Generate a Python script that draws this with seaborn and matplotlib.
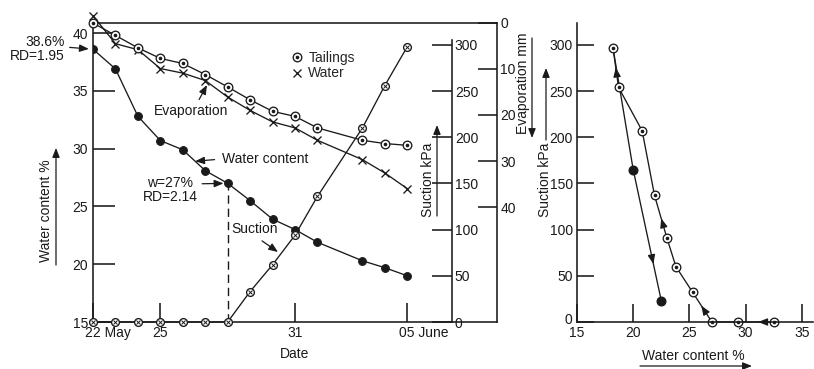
import numpy as np
import matplotlib
matplotlib.use("Agg")
import matplotlib.pyplot as plt
import matplotlib.transforms as mtransforms
from matplotlib.lines import Line2D
from matplotlib.patches import FancyArrowPatch
import seaborn as sns

# ---------------------------------------------------------------- data
date_ticks = [0, 3, 9, 14]
date_labels = ["22 May", "25", "31", "05 June"]

days = [0, 1, 2, 3, 4, 5, 6, 7, 8, 9, 10, 12, 13, 14]
water_content = [38.6, 36.9, 32.8, 30.7, 29.9, 28.1, 27.0, 25.5, 23.9, 23.0, 21.9, 20.3, 19.7, 19.0]
suction = [0, 0, 0, 0, 0, 0, 0, 33, 62, 94, 136, 210, 256, 298]
evap_tailings = [0, 2.7, 5.4, 7.7, 8.8, 11.2, 13.9, 16.7, 19.2, 20.3, 22.8, 25.5, 26.2, 26.6]
evap_water = [-1.6, 4.5, 5.8, 9.9, 10.9, 12.5, 16.1, 19.0, 21.5, 22.8, 25.5, 29.7, 32.6, 36.0]

wc_ticks = [15, 20, 25, 30, 35, 40]
suction_ticks = [0, 50, 100, 150, 200, 250, 300]
evap_ticks = [0, 10, 20, 30, 40]
wc_axis_ticks = [15, 20, 25, 30, 35]

drying_wc = [32.5, 29.3, 27.0, 25.3, 23.8, 23.0, 21.9, 20.8, 18.7, 18.2]
drying_suction = [0, 0, 0, 32, 60, 91, 137, 207, 254, 297]
wetting_wc = [18.2, 20.0, 22.5]
wetting_suction = [297, 165, 23]

# --------------------------------------------------------------- style
sns.set_style("ticks")
plt.rcParams["font.family"] = ["Liberation Sans", "DejaVu Sans"]
plt.rcParams["font.size"] = 10
ink = "#1a1a1a"

W, H = 814, 369
fig = plt.figure(figsize=(W / 100, H / 100), dpi=100)


def box(left, top, right, bottom):
    return [left / W, 1 - bottom / H, (right - left) / W, (bottom - top) / H]


def fxy(px, py):
    return (px / W, 1 - py / H)


ax = fig.add_axes(box(93, 23, 497, 322))
ax.set_xlim(0, 18)
ax.set_ylim(15, 40.87)
ax_s = ax.twinx()
ax_s.set_ylim(0, 323.8)
ax_e = ax.twinx()
ax_e.set_ylim(65, 0)
ax_r = fig.add_axes(box(577, 23, 813, 322))
ax_r.set_xlim(15, 36)
ax_r.set_ylim(0, 323.8)

for sp in ax.spines.values():
    sp.set_linewidth(1.15)
    sp.set_color(ink)
for name in ("top", "bottom", "left"):
    ax_s.spines[name].set_visible(False)
ax_s.spines["right"].set_position(("axes", (452 - 93) / 404))
ax_s.spines["right"].set_bounds(0, 305)
ax_s.spines["right"].set_linewidth(1.15)
ax_s.spines["right"].set_color(ink)
for sp in ax_e.spines.values():
    sp.set_visible(False)
for name in ("top", "right"):
    ax_r.spines[name].set_visible(False)
for name in ("left", "bottom"):
    ax_r.spines[name].set_linewidth(1.15)
    ax_r.spines[name].set_color(ink)

ax.set_yticks(wc_ticks)
ax.set_xticks(date_ticks, labels=date_labels)
ax.tick_params(axis="y", direction="in", length=16, width=1.15, pad=3.5, colors=ink)
ax.tick_params(axis="x", direction="in", length=13.5, width=1.15, pad=3, colors=ink)
shift = mtransforms.ScaledTranslation(-7.8 / 100, 0, fig.dpi_scale_trans)
for lab, txt in zip(ax.get_xticklabels(), date_labels):
    if " " in txt:
        lab.set_horizontalalignment("left")
        lab.set_transform(lab.get_transform() + shift)

ax_s.set_yticks(suction_ticks)
ax_s.tick_params(axis="y", direction="in", length=14.5, width=1.15, pad=2, colors=ink)
ax_e.set_yticks(evap_ticks)
ax_e.tick_params(axis="y", direction="in", length=13.7, width=1.15, pad=2.5, colors=ink)

ax_r.set_xticks(wc_axis_ticks)
ax_r.set_yticks(suction_ticks)
ax_r.tick_params(axis="y", direction="in", length=12.5, width=1.15, pad=3, colors=ink)
ax_r.tick_params(axis="x", direction="in", length=13, width=1.15, pad=3, colors=ink)
# lift the corner "0" a little so it clears the "15" below it
lift = mtransforms.ScaledTranslation(-1 / 100, 4 / 100, fig.dpi_scale_trans)
corner = ax_r.get_yticklabels()[0]
corner.set_transform(corner.get_transform() + lift)

# --------------------------------------------------------------- lines
line_kw = dict(color=ink, linewidth=0.95, sort=False, estimator=None)
ring_kw = dict(marker="o", markersize=6.2, markerfacecolor="white",
               markeredgecolor=ink, markeredgewidth=0.95)

# water content over time
sns.lineplot(x=days, y=water_content, ax=ax, marker="o", markersize=5.6,
             markerfacecolor=ink, markeredgecolor=ink, **line_kw)
i27 = water_content.index(27.0)
ax.plot([days[i27], days[i27]], [ax.get_ylim()[0], water_content[i27]],
        ls=(0, (6, 3.5)), lw=1.0, color=ink)

# evaporation: free water and tailings
sns.lineplot(x=days, y=evap_water, ax=ax_e, marker="x", markersize=5.2,
             markeredgecolor=ink, markeredgewidth=0.95, clip_on=False, **line_kw)
sns.lineplot(x=days, y=evap_tailings, ax=ax_e, clip_on=False, **ring_kw, **line_kw)
ax_e.plot(days, evap_tailings, ls="none", marker="o", markersize=1.6, color=ink, clip_on=False)

# suction over time
sns.lineplot(x=days, y=suction, ax=ax_s, marker="o", markersize=5.6,
             markerfacecolor="white", markeredgecolor=ink, markeredgewidth=0.95,
             clip_on=False, **line_kw)
ax_s.plot(days, suction, ls="none", marker="x", markersize=2.8,
          markeredgewidth=0.7, color=ink, clip_on=False)

# suction vs water content: drying and wetting paths
sns.lineplot(x=wetting_wc, y=wetting_suction, ax=ax_r, zorder=1.5, **line_kw)
ax_r.plot(wetting_wc[1:], wetting_suction[1:], ls="none", marker="o",
          markersize=6.2, color=ink, clip_on=False)
sns.lineplot(x=drying_wc, y=drying_suction, ax=ax_r, clip_on=False, **ring_kw, **line_kw)
ax_r.plot(drying_wc, drying_suction, ls="none", marker="o", markersize=1.6,
          color=ink, clip_on=False)

for a in (ax, ax_s, ax_e, ax_r):
    a.set_xlabel("")
    a.set_ylabel("")

head = "-|>,head_length=0.55,head_width=0.22"


def path_arrow(axis, xs, ys, i, t, back=8.0):
    p0 = axis.transData.transform((xs[i], ys[i]))
    p1 = axis.transData.transform((xs[i + 1], ys[i + 1]))
    tip = p0 + t * (p1 - p0)
    unit = (p1 - p0) / np.hypot(*(p1 - p0))
    inv = axis.transData.inverted()
    axis.annotate("", xy=inv.transform(tip), xytext=inv.transform(tip - back * unit),
                  annotation_clip=False,
                  arrowprops=dict(arrowstyle=head, color=ink, lw=0.9,
                                  shrinkA=0, shrinkB=0, mutation_scale=10))


path_arrow(ax_r, drying_wc, drying_suction, 0, 0.43)
path_arrow(ax_r, drying_wc, drying_suction, 2, 0.55)
path_arrow(ax_r, drying_wc, drying_suction, 5, 0.46)
path_arrow(ax_r, drying_wc, drying_suction, 8, 0.5)
path_arrow(ax_r, wetting_wc, wetting_suction, 1, 0.72)

# --------------------------------------------------------- annotations
arr = dict(arrowstyle=head, color=ink, lw=0.9, mutation_scale=10)

ax.annotate("38.6%\nRD=1.95", xy=(days[0], water_content[0]),
            xytext=fxy(65, 49), textcoords="figure fraction",
            ha="right", va="center", linespacing=1.0, color=ink,
            arrowprops=dict(relpos=(1.0, 0.57), shrinkA=1, shrinkB=3, **arr))
ax.annotate("w=27%\nRD=2.14", xy=(days[i27], water_content[i27]),
            xytext=fxy(170, 190), textcoords="figure fraction",
            ha="center", va="center", multialignment="center", linespacing=1.0,
            color=ink,
            arrowprops=dict(relpos=(1.0, 0.72), shrinkA=1, shrinkB=3, **arr))
tip_day = 4.55
ax.annotate("Water content", xy=(tip_day, np.interp(tip_day, days, water_content)),
            xytext=fxy(222, 159), textcoords="figure fraction",
            ha="left", va="center", color=ink,
            arrowprops=dict(relpos=(0.0, 0.5), shrinkA=3, shrinkB=0, **arr))
ax.annotate("Evaporation", xy=fxy(207, 85), xycoords="figure fraction",
            xytext=fxy(191.5, 111), textcoords="figure fraction",
            ha="center", va="center", color=ink,
            arrowprops=dict(relpos=(0.57, 1.0), shrinkA=1, shrinkB=0, **arr))
ax.annotate("Suction", xy=fxy(278, 252), xycoords="figure fraction",
            xytext=fxy(255, 229), textcoords="figure fraction",
            ha="center", va="center", color=ink,
            arrowprops=dict(relpos=(0.5, 0.0), shrinkA=2, shrinkB=0, **arr))

tail_handle = (Line2D([], [], ls="none", marker="o", markersize=6.2, markerfacecolor="white",
                      markeredgecolor=ink, markeredgewidth=0.95),
               Line2D([], [], ls="none", marker="o", markersize=1.6, color=ink))
water_handle = Line2D([], [], ls="none", marker="x", markersize=5.5,
                      markeredgecolor=ink, markeredgewidth=0.95)
ax.legend([tail_handle, water_handle], ["Tailings", "Water"], loc="upper left",
          bbox_to_anchor=((291 - 93) / 404, (322 - 51) / 299), frameon=False,
          handlelength=0.8, handletextpad=0.45, labelspacing=0.1,
          borderpad=0, borderaxespad=0, fontsize=10)


def side_label(text, cx, cy, rotation=90):
    fig.text(*fxy(cx, cy), text, rotation=rotation, ha="center", va="center",
             color=ink, fontsize=10)


def guide_arrow(x0, y0, x1, y1):
    fig.add_artist(FancyArrowPatch(fxy(x0, y0), fxy(x1, y1), transform=fig.transFigure,
                                   arrowstyle=head, mutation_scale=10, lw=0.9,
                                   color=ink, shrinkA=0, shrinkB=0))


side_label("Water content %", 46, 211)
guide_arrow(56, 265, 56, 148)
side_label("Suction kPa", 428, 180)
guide_arrow(437, 216, 437, 125)
side_label("Evaporation mm", 523, 83)
guide_arrow(532, 38, 532, 138)
side_label("Suction kPa", 545, 180)
guide_arrow(546, 140, 546, 68)
side_label("Water content %", 693, 356, rotation=0)
guide_arrow(640, 366, 752, 366)
side_label("Date", 295, 354, rotation=0)

fig.savefig("out.png", dpi=100)
